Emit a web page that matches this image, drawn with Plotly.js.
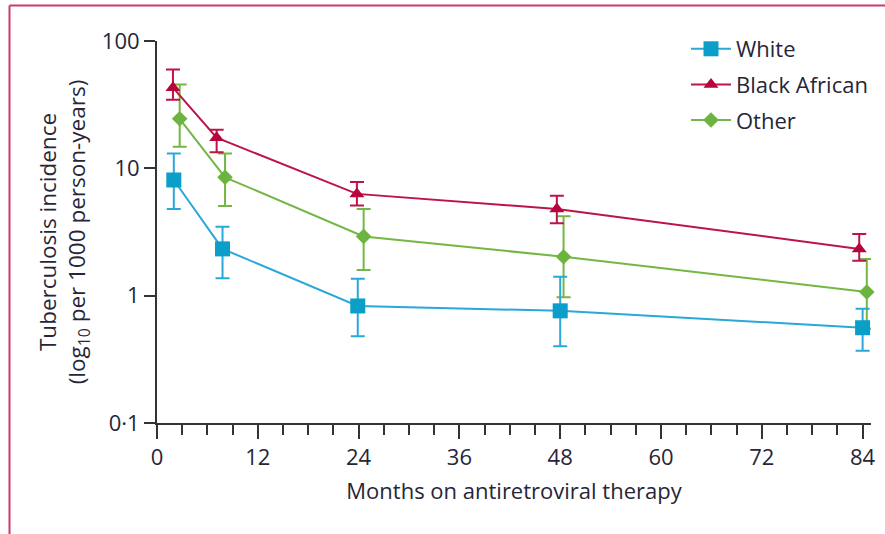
<!DOCTYPE html>
<html>
<head>
<meta charset="utf-8">
<script src="https://cdn.plot.ly/plotly-3.0.1.min.js"></script>
<style>
  html, body { margin: 0; padding: 0; background: #ffffff; }
  #chart { width: 885px; height: 534px; }
</style>
</head>
<body>
<div id="chart"></div>
<script>
// Tuberculosis incidence by ethnic group over time on antiretroviral therapy
// (rate per 1000 person-years with 95% CI), log scale.

const groupNames = ['White', 'Black African', 'Other'];

// Months on ART (points slightly dodged per group)
const whiteMonths = [2, 7.8, 23.9, 48, 84];
const blackMonths = [1.9, 7.1, 23.8, 47.6, 83.6];
const otherMonths = [2.7, 8.1, 24.6, 48.4, 84.5];

// Incidence estimates
const whiteRate = [8.1, 2.33, 0.83, 0.76, 0.56];
const blackRate = [43, 17.4, 6.3, 4.8, 2.33];
const otherRate = [24.5, 8.5, 2.92, 2.02, 1.07];

// Upper and lower confidence limits
const whiteUpper = [13.1, 3.48, 1.36, 1.41, 0.79];
const whiteLower = [4.8, 1.37, 0.48, 0.40, 0.37];
const blackUpper = [59.6, 20.1, 7.8, 6.1, 3.05];
const blackLower = [34.6, 13.4, 5.1, 3.7, 1.88];
const otherUpper = [45.6, 13.1, 4.8, 4.2, 1.94];
const otherLower = [14.8, 5.07, 1.59, 0.97, 0.55];

// Axis ticks
const xTickVals = [0, 12, 24, 36, 48, 60, 72, 84];
const yTickVals = [0.1, 1, 10, 100];
const yTickText = ['0·1', '1', '10', '100'];

const FONT = 'Open Sans, Noto Sans, sans-serif';
const TEXT = '#262638';
const AXIS = '#333333';

function series(name, rank, x, y, upper, lower, color, lineColor, symbol, size) {
  return {
    type: 'scatter',
    mode: 'lines+markers',
    name: name,
    legendgroup: name,
    legendrank: rank,
    x: x,
    y: y,
    cliponaxis: false,
    line: { color: lineColor, width: 2 },
    marker: { symbol: symbol, size: size, color: color, line: { width: 0 } },
    error_y: {
      type: 'data',
      symmetric: false,
      array: upper.map((u, i) => u - y[i]),
      arrayminus: lower.map((l, i) => y[i] - l),
      color: lineColor,
      thickness: 2,
      width: 7
    },
    hoverinfo: 'x+y+name'
  };
}

// Drawn bottom to top: Other, Black African, White
const traces = [
  series(groupNames[2], 3, otherMonths, otherRate, otherUpper, otherLower, '#6db33f', '#74b744', 'diamond', 12),
  series(groupNames[1], 2, blackMonths, blackRate, blackUpper, blackLower, '#b5053c', '#bd1448', 'triangle-up', 13),
  series(groupNames[0], 1, whiteMonths, whiteRate, whiteUpper, whiteLower, '#0a9ec8', '#2aa8d8', 'square', 15)
];

// Plot area geometry in px, used to place the surrounding frame in paper units
const L = 157, R = 14, T = 41, B = 111, W = 885, H = 534;
const pw = W - L - R, ph = H - T - B;
const px = v => (v - L) / pw;
const py = v => (H - B - v) / ph;
const frameColor = '#c83c6c';

const layout = {
  width: W,
  height: H,
  margin: { l: L, r: R, t: T, b: B, pad: 0 },
  paper_bgcolor: '#ffffff',
  plot_bgcolor: '#ffffff',
  font: { family: FONT, size: 22, color: TEXT },
  showlegend: true,
  legend: {
    x: px(686), y: py(28), xanchor: 'left', yanchor: 'top',
    traceorder: 'grouped',
    tracegroupgap: 4,
    bgcolor: 'rgba(0,0,0,0)',
    borderwidth: 0,
    itemwidth: 40,
    font: { family: FONT, size: 22, color: TEXT }
  },
  xaxis: {
    range: [0, 85],
    tickmode: 'array',
    tickvals: xTickVals,
    ticks: 'outside',
    ticklen: 14,
    tickwidth: 2,
    tickcolor: AXIS,
    showline: true,
    linewidth: 2,
    linecolor: AXIS,
    showgrid: false,
    zeroline: false,
    tickfont: { family: FONT, size: 22, color: TEXT },
    minor: { tick0: 0, dtick: 3, ticks: 'outside', ticklen: 10, tickwidth: 2, tickcolor: AXIS, showgrid: false },
    title: { text: 'Months on antiretroviral therapy', font: { family: FONT, size: 22, color: TEXT }, standoff: 13 }
  },
  yaxis: {
    type: 'log',
    range: [-1, 2],
    tickmode: 'array',
    tickvals: yTickVals,
    ticktext: yTickText,
    ticks: 'outside',
    ticklen: 11,
    tickwidth: 2,
    tickcolor: AXIS,
    showline: true,
    linewidth: 2,
    linecolor: AXIS,
    showgrid: false,
    zeroline: false,
    tickfont: { family: FONT, size: 22, color: TEXT },
    title: {
      text: 'Tuberculosis incidence<br>(log<sub>10</sub> per 1000 person-years)',
      font: { family: FONT, size: 22.5, color: TEXT },
      standoff: 10
    }
  },
  shapes: [
    { type: 'line', xref: 'paper', yref: 'paper', x0: px(9.5), x1: px(900), y0: py(5.5), y1: py(5.5), line: { color: frameColor, width: 2 } },
    { type: 'line', xref: 'paper', yref: 'paper', x0: px(9.5), x1: px(9.5), y0: py(5.5), y1: py(560), line: { color: frameColor, width: 2 } }
  ]
};

Plotly.newPlot('chart', traces, layout, { displayModeBar: false, staticPlot: true });
</script>
</body>
</html>
